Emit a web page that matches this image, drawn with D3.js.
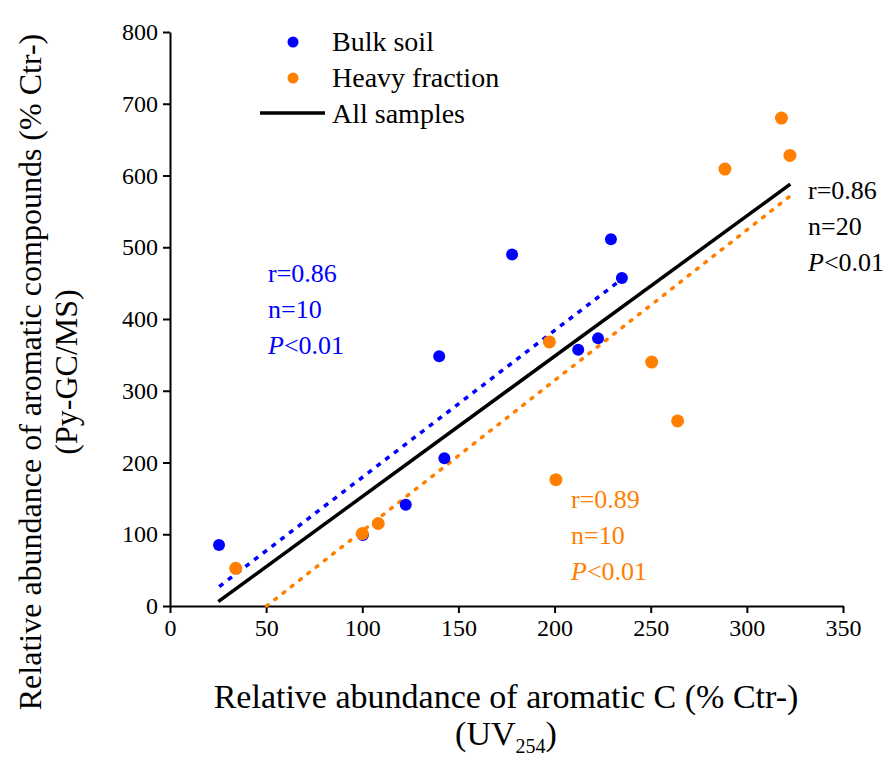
<!DOCTYPE html>
<html>
<head>
<meta charset="utf-8">
<script src="https://cdn.jsdelivr.net/npm/d3@7"></script>
<style>
body { margin: 0; background: #fff; }
svg text { font-family: "Liberation Serif", "Times New Roman", serif !important; }
</style>
</head>
<body>
<script>
// bulk soil points
bulkX = [25.5, 100.3, 122.6, 142.7, 140, 177.9, 212.3, 222.6, 229.3, 235]
bulkY = [85, 99, 141, 206, 348, 490, 357, 373, 511, 457]

// heavy fraction points
heavyX = [34.2, 100, 108.3, 197.3, 200.7, 250.5, 264, 288.6, 318, 322.4]
heavyY = [52.5, 101, 115, 368, 176, 340, 258, 609, 680, 628]

// fit lines: [slope, intercept, xStart, xEnd]
fitAll = [1.956, -43.1, 25.1, 322.6]
fitBulk = [2.047, -25.4, 25.6, 233.2]
fitHeavy = [2.098, -105.3, 50.2, 322.6]

xTicks = [0, 50, 100, 150, 200, 250, 300, 350]
yTicks = [0, 100, 200, 300, 400, 500, 600, 700, 800]

blue = "#0000ff"
orange = "#ff8000"
serif = "Liberation Serif"

width = 896
height = 761
margin = {top: 32, right: 53, bottom: 155, left: 170}

x = d3.scaleLinear()
	.domain([0, 350])
	.range([margin.left, width - margin.right])

y = d3.scaleLinear()
	.domain([0, 800])
	.range([height - margin.bottom, margin.top])

var svg = d3.select("body").append("svg")
	.attr("width", width)
	.attr("height", height)
	.attr("viewBox", [0, 0, width, height])
	.style("font-family", serif)

// axes
var gx = svg.append("g")
	.attr("transform", "translate(0," + y(0) + ")")
	.call(d3.axisBottom(x).tickValues(xTicks).tickSize(7).tickSizeOuter(0).tickPadding(6))
var gy = svg.append("g")
	.attr("transform", "translate(" + x(0) + ",0)")
	.call(d3.axisLeft(y).tickValues(yTicks).tickSize(7).tickSizeOuter(0).tickPadding(5))

svg.selectAll(".domain, .tick line")
	.attr("stroke", "#000")
	.attr("stroke-width", 2)
gx.attr("font-family", null).attr("font-size", 24)
gy.attr("font-family", null).attr("font-size", 24)
svg.selectAll(".tick text")
	.style("font-family", serif)
	.attr("fill", "#000")

// fit lines
function fitLine(f) {
	return [[f[2], f[0] * f[2] + f[1]], [f[3], f[0] * f[3] + f[1]]]
}
var line = d3.line().x(d => x(d[0])).y(d => y(d[1]))

svg.append("path")
	.attr("d", line(fitLine(fitBulk)))
	.attr("stroke", blue)
	.attr("stroke-width", 3.5)
	.attr("stroke-dasharray", "5,6")
	.attr("fill", "none")
svg.append("path")
	.attr("d", line(fitLine(fitHeavy)))
	.attr("stroke", orange)
	.attr("stroke-width", 3.5)
	.attr("stroke-linecap", "round")
	.attr("stroke-dasharray", "2,8.5")
	.attr("fill", "none")
svg.append("path")
	.attr("d", line(fitLine(fitAll)))
	.attr("stroke", "#000")
	.attr("stroke-width", 3.5)
	.attr("fill", "none")

// points
svg.append("g")
	.attr("fill", blue)
	.selectAll("circle")
	.data(d3.range(bulkX.length))
	.join("circle")
	.attr("cx", i => x(bulkX[i]))
	.attr("cy", i => y(bulkY[i]))
	.attr("r", 6)
svg.append("g")
	.attr("fill", orange)
	.selectAll("circle")
	.data(d3.range(heavyX.length))
	.join("circle")
	.attr("cx", i => x(heavyX[i]))
	.attr("cy", i => y(heavyY[i]))
	.attr("r", 6.5)

// legend
var legend = svg.append("g").attr("font-size", 28)
legend.append("circle").attr("cx", 293).attr("cy", 42).attr("r", 5.5).attr("fill", blue)
legend.append("circle").attr("cx", 293).attr("cy", 78).attr("r", 5.5).attr("fill", orange)
legend.append("line").attr("x1", 260).attr("x2", 325).attr("y1", 113).attr("y2", 113)
	.attr("stroke", "#000").attr("stroke-width", 3.5)
legend.selectAll("text")
	.data(["Bulk soil", "Heavy fraction", "All samples"])
	.join("text")
	.attr("x", 332)
	.attr("y", (d, i) => 42 + i * 36)
	.attr("dy", "0.33em")
	.text(d => d)

// statistics labels
function stats(x0, y0, color, r, n) {
	var g = svg.append("g").attr("fill", color).attr("font-size", 26)
	g.append("text").attr("x", x0).attr("y", y0).attr("dy", "0.33em").text("r=" + r)
	g.append("text").attr("x", x0).attr("y", y0 + 36).attr("dy", "0.33em").text("n=" + n)
	var t = g.append("text").attr("x", x0).attr("y", y0 + 72).attr("dy", "0.33em")
	t.append("tspan").attr("font-style", "italic").text("P")
	t.append("tspan").text("<0.01")
}
stats(268, 273, blue, "0.86", 10)
stats(571, 499, orange, "0.89", 10)
stats(808, 190, "#000", "0.86", 20)

// axis titles
var xt = svg.append("text")
	.attr("text-anchor", "middle")
	.attr("font-size", 34)
xt.append("tspan").attr("x", 506).attr("y", 708).text("Relative abundance of aromatic C (% Ctr-)")
xt.append("tspan").attr("x", 506).attr("y", 745).text("(UV")
xt.append("tspan").attr("font-size", 20).attr("dy", 8).text("254")
xt.append("tspan").attr("dy", -8).text(")")

var yt = svg.append("text")
	.attr("text-anchor", "middle")
	.attr("font-size", 32)
	.attr("transform", "rotate(-90)")
yt.append("tspan").attr("x", -372).attr("y", 41).text("Relative abundance of aromatic compounds (% Ctr-)")
yt.append("tspan").attr("x", -372).attr("y", 77).text("(Py-GC/MS)")
</script>
</body>
</html>
